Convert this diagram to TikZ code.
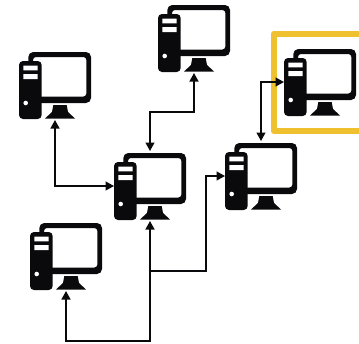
\documentclass[tikz,border=0pt]{standalone}
\usetikzlibrary{arrows.meta}
\definecolor{ink}{HTML}{0A0A0C}
\definecolor{amber}{HTML}{F0C12E}
\tikzset{
  link/.style={draw=ink,line width=1.35pt,{Triangle[length=8.5pt,width=9pt]}-{Triangle[length=8.5pt,width=9pt]}},
  linkone/.style={draw=ink,line width=1.35pt,-{Triangle[length=8.5pt,width=9pt]}},
  computer/.pic={
    \fill[ink,even odd rule] [rounded corners=5pt] (9.3,0) rectangle (72,51)
      [rounded corners=3pt] (14,5) rectangle (67.4,44.5);
    \fill[ink,rounded corners=4pt] (0,9) rectangle (22.7,67);
    \fill[white] (4.3,13.7) rectangle (18.7,18.3) (4.3,22) rectangle (18.7,27);
    \fill[white] (6.7,51) circle (2.3);
    \fill[ink] (34.3,53) -- (47.7,53) -- (49,60) -- (56,66.5) -- (26,66.5) -- (33,60) -- cycle;
    \coordinate (-top) at (36,-2);
    \coordinate (-bot) at (36,68);
    \coordinate (-left) at (0,33);
  }
}
\begin{document}
\begin{tikzpicture}[x=1pt,y=-1pt]
\useasboundingbox (0,0) rectangle (359,343);
\draw[amber,line width=6pt,line join=round] (359,33.5) -- (274,33.5) -- (274,131) -- (359,131);
\pic (c1) at (158,5) {computer};
\pic (c2) at (19,52) {computer};
\pic (c3) at (114,153) {computer};
\pic (c4) at (225,143) {computer};
\pic (c5) at (284,49) {computer};
\pic (c6) at (30,223) {computer};
\coordinate (j1) at (206,271);
\coordinate (j2) at (150,271);
\coordinate (j3) at (150,341);
\coordinate (j4) at (150,112);
\path[link] (c3-top) |- (j4) -| (c1-bot);
\path[link] (c2-bot) |- (c3-left);
\path[link] (c3-bot) |- (j1) |- (c4-left);
\path[linkone] (j2) -- (j3) -| (c6-bot);
\path[link] (c5-left) -| (c4-top);
\end{tikzpicture}
\end{document}
